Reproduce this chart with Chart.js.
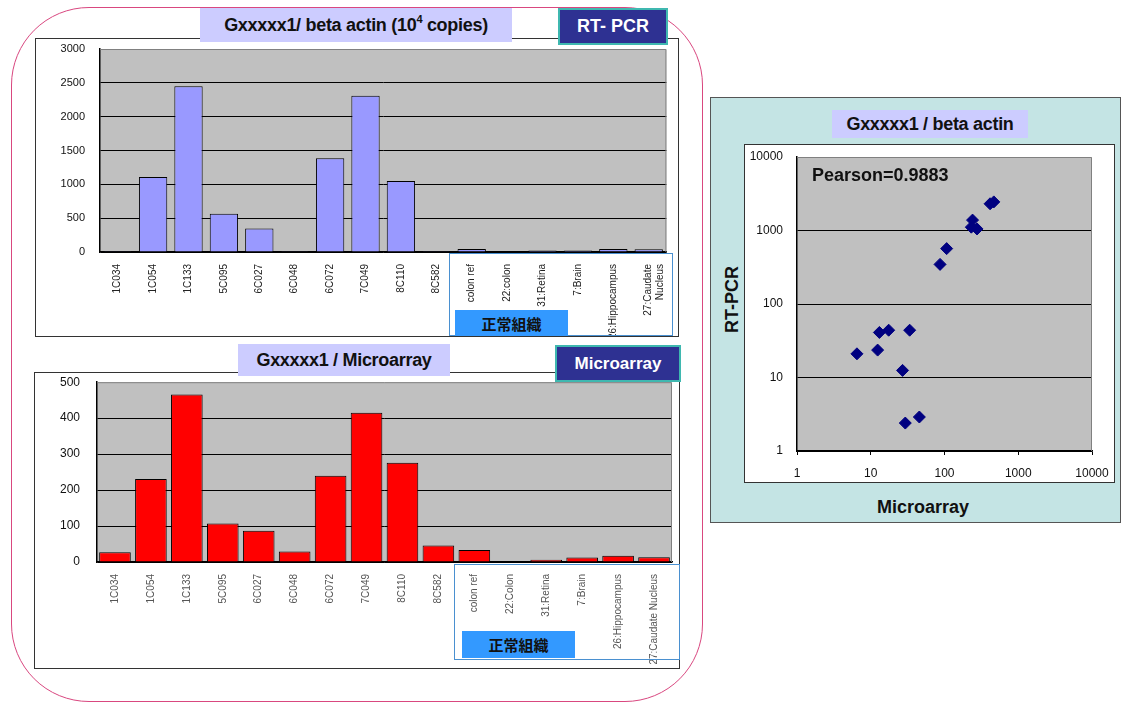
<!DOCTYPE html>
<html>
<head>
<meta charset="utf-8">
<script src="https://cdn.jsdelivr.net/npm/chart.js@4"></script>
<style>
  body { margin: 0; background: #fff; width: 1129px; height: 707px; position: relative; overflow: hidden; font-family: "Liberation Sans", Arial, sans-serif; }
  .abs { position: absolute; box-sizing: border-box; }
  .badge { display: flex; align-items: center; justify-content: center; font-weight: bold; white-space: nowrap; z-index: 5; }
  .lav { background: #ccccff; color: #111; font-size: 18px; letter-spacing: -0.3px; }
  .navy { background: #2e3192; color: #fff; border: 2px solid #3fb8b0; font-size: 17px; }
  .jp { background: #3399ff; color: #111; font-size: 15px; font-family: "Noto Sans CJK JP", sans-serif; }
  .bluebox { border: 1.5px solid #4a90d0; z-index: 4; }
  .axt { font-weight: bold; font-size: 18px; color: #111; z-index: 5; text-align: center; }
  canvas { position: absolute; z-index: 2; }
</style>
</head>
<body>
<!-- pink frame round the two bar charts -->
<div class="abs" style="left:11px;top:7px;width:692px;height:695px;border:1.5px solid #d9477f;border-radius:78px;"></div>

<!-- top chart : RT-PCR -->
<div class="abs" style="left:35px;top:38px;width:644px;height:299px;border:1.5px solid #333;background:#fff;"></div>
<canvas id="rtChart" width="641" height="296" style="left:36px;top:39px;"></canvas>
<div class="abs bluebox" style="left:449px;top:253px;width:224px;height:83px;"></div>
<div class="abs badge jp" style="left:455px;top:310px;width:113px;height:26px;">正常組織</div>
<div class="abs badge lav" style="left:200px;top:8px;width:312px;height:34px;">Gxxxxx1/ beta actin (10<span style="font-size:11px;position:relative;top:-6px;">4</span>&nbsp;copies)</div>
<div class="abs badge navy" style="left:558px;top:8px;width:110px;height:37px;font-size:18px;">RT- PCR</div>

<!-- bottom chart : Microarray -->
<div class="abs" style="left:34px;top:372px;width:646px;height:297px;border:1.5px solid #333;background:#fff;"></div>
<canvas id="maChart" width="644" height="294" style="left:35px;top:373px;"></canvas>
<div class="abs bluebox" style="left:454px;top:564px;width:226px;height:96px;"></div>
<div class="abs badge jp" style="left:462px;top:631px;width:113px;height:27px;">正常組織</div>
<div class="abs badge lav" style="left:238px;top:344px;width:212px;height:32px;">Gxxxxx1 / Microarray</div>
<div class="abs badge navy" style="left:555px;top:345px;width:126px;height:37px;">Microarray</div>

<!-- scatter panel -->
<div class="abs" style="left:710px;top:97px;width:411px;height:426px;background:#c4e4e4;border:1px solid #555;"></div>
<div class="abs" style="left:744px;top:144px;width:371px;height:339px;background:#fff;border:1px solid #333;"></div>
<canvas id="scChart" width="369" height="337" style="left:745px;top:145px;"></canvas>
<div class="abs badge lav" style="left:832px;top:110px;width:196px;height:28px;">Gxxxxx1 / beta actin</div>
<div class="abs axt" style="left:812px;top:165px;font-size:18px;text-align:left;">Pearson=0.9883</div>
<div class="abs axt" style="left:682px;top:289px;width:100px;transform:rotate(-90deg);">RT-PCR</div>
<div class="abs axt" style="left:863px;top:497px;width:120px;">Microarray</div>

<script>
// sample names (top chart wraps the last one)
const rtLabels = ['1C034', '1C054', '1C133', '5C095', '6C027', '6C048', '6C072', '7C049', '8C110', '8C582',
    'colon ref', '22:colon', '31:Retina', '7:Brain', '26:Hippocampus', ['27:Caudate', 'Nucleus']];
const maLabels = ['1C034', '1C054', '1C133', '5C095', '6C027', '6C048', '6C072', '7C049', '8C110', '8C582',
    'colon ref', '22:Colon', '31:Retina', '7:Brain', '26:Hippocampus', '27:Caudate Nucleus'];

// Gxxxxx1 / beta actin (10^4 copies)
const rtpcr = [12.5, 1110, 2450, 567, 346, 2.4, 1385, 2310, 1050, 2.9, 44, null, 21, 23.6, 44, 41];
// Gxxxxx1 microarray signal
const microarray = [27, 231, 466, 107, 87, 29.4, 240, 415, 276, 45.6, 33.7, null, 6.5, 12.4, 17.5, 13.1];

const rtTicks = [0, 500, 1000, 1500, 2000, 2500, 3000];
const maTicks = [0, 100, 200, 300, 400, 500];
const logTicks = [1, 10, 100, 1000, 10000];

// grey plot area + grey frame like excel
const plotBg = {
    id: 'plotBg',
    beforeDraw(chart) {
        const a = chart.chartArea, ctx = chart.ctx;
        ctx.save();
        ctx.fillStyle = '#c0c0c0';
        ctx.fillRect(a.left, a.top, a.right - a.left, a.bottom - a.top);
        ctx.restore();
    },
    afterDraw(chart) {
        const a = chart.chartArea, ctx = chart.ctx;
        ctx.save();
        ctx.strokeStyle = '#808080';
        ctx.lineWidth = 1;
        ctx.beginPath();
        ctx.moveTo(a.left, a.top + 0.5);
        ctx.lineTo(a.right - 0.5, a.top + 0.5);
        ctx.lineTo(a.right - 0.5, a.bottom);
        ctx.stroke();
        ctx.restore();
    }
};

function barChart(id, labels, values, ticks, color, opt) {
    const top = ticks[ticks.length - 1];
    return new Chart(document.getElementById(id), {
        type: 'bar',
        data: {
            labels: labels,
            datasets: [{
                data: values,
                backgroundColor: color,
                borderColor: '#000',
                borderWidth: 1,
                barPercentage: opt.barPct,
                categoryPercentage: 1
            }]
        },
        options: {
            responsive: false,
            animation: false,
            layout: { padding: { top: opt.top, right: opt.right, left: 0, bottom: 0 } },
            plugins: { legend: { display: false }, tooltip: { enabled: false } },
            scales: {
                x: {
                    grid: { display: false },
                    border: { color: '#000', width: 1.5 },
                    ticks: {
                        autoSkip: false, minRotation: 90, maxRotation: 90, padding: 4,
                        color: opt.labelColor, font: { family: 'Liberation Sans', size: 10 }
                    },
                    afterFit: s => { s.height = opt.xHeight; }
                },
                y: {
                    min: 0,
                    max: top,
                    afterBuildTicks: s => { s.ticks = ticks.map(v => ({ value: v })); },
                    grid: {
                        // invisible tick marks just push the labels away from the axis
                        tickLength: opt.yGap,
                        tickColor: 'rgba(0,0,0,0)',
                        color: c => c.tick && c.tick.value === top ? 'rgba(0,0,0,0)' : '#000',
                        lineWidth: 1
                    },
                    border: { color: '#000', width: 1.5 },
                    ticks: {
                        padding: 2, color: '#111', font: { family: 'Liberation Sans', size: opt.ySize },
                        callback: v => String(v)
                    },
                    afterFit: s => { s.width = opt.yWidth; }
                }
            }
        },
        plugins: [plotBg]
    });
}

barChart('rtChart', rtLabels, rtpcr, rtTicks, '#9999ff',
    { barPct: 0.8, top: 10, right: 9, xHeight: 83, yWidth: 64, yGap: 13, ySize: 11, labelColor: '#222' });
barChart('maChart', maLabels, microarray, maTicks, '#ff0000',
    { barPct: 0.88, top: 9, right: 7, xHeight: 105, yWidth: 62, yGap: 15, ySize: 12, labelColor: '#555' });

// scatter: one point per sample that has both values
const points = [];
for (let i = 0; i < microarray.length; i++) {
    if (microarray[i] != null && rtpcr[i] != null) points.push({ x: microarray[i], y: rtpcr[i] });
}

new Chart(document.getElementById('scChart'), {
    type: 'scatter',
    data: {
        datasets: [{
            data: points,
            pointStyle: 'rectRot',
            radius: 6,
            backgroundColor: '#000080',
            borderColor: '#000080'
        }]
    },
    options: {
        responsive: false,
        animation: false,
        layout: { padding: { top: 12, right: 22, left: 0, bottom: 0 } },
        plugins: { legend: { display: false }, tooltip: { enabled: false } },
        scales: {
            x: {
                type: 'logarithmic',
                min: 1, max: 10000,
                afterBuildTicks: s => { s.ticks = logTicks.map(v => ({ value: v })); },
                grid: { drawOnChartArea: false, tickLength: 4, color: '#000' },
                border: { color: '#000', width: 1.5 },
                ticks: { padding: 11, color: '#111', font: { family: 'Liberation Sans', size: 12 }, callback: v => String(v) },
                afterFit: s => {
                    s.height = 31;
                    // keep plot edge fixed, the "10000" label may hang over
                    s.paddingLeft = 0;
                    s.paddingRight = 0;
                }
            },
            y: {
                type: 'logarithmic',
                min: 1, max: 10000,
                afterBuildTicks: s => { s.ticks = logTicks.map(v => ({ value: v })); },
                grid: {
                    tickLength: 12,
                    tickColor: 'rgba(0,0,0,0)',
                    color: c => c.tick && c.tick.value === 10000 ? 'rgba(0,0,0,0)' : '#000'
                },
                border: { color: '#000', width: 1.5 },
                ticks: { padding: 2, color: '#111', font: { family: 'Liberation Sans', size: 12 }, callback: v => String(v) },
                afterFit: s => { s.width = 52; }
            }
        }
    },
    plugins: [plotBg]
});
</script>
</body>
</html>
